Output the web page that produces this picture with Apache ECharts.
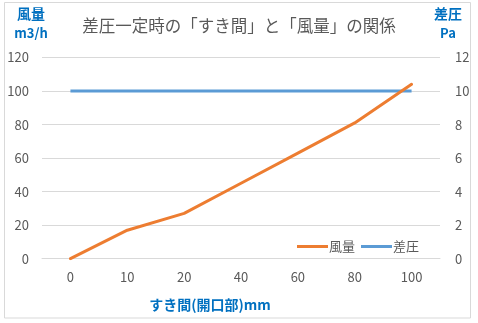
<!DOCTYPE html>
<html>
<head>
<meta charset="utf-8">
<script src="https://cdn.jsdelivr.net/npm/echarts@6/dist/echarts.min.js"></script>
<style>
  html, body { margin: 0; padding: 0; background: #ffffff; }
  #chart { width: 478px; height: 323px; }
</style>
</head>
<body>
<div id="chart"></div>
<script>
// すき間(開口部) [mm]
const gapCategories = ['0', '10', '20', '40', '60', '80', '100'];
// 風量 [m3/h]
const airflow = [0, 17, 27, 45, 63, 81, 104];
// 差圧 [Pa]
const pressure = [10, 10, 10, 10, 10, 10, 10];
// 軸目盛
const leftTicks = [0, 20, 40, 60, 80, 100, 120];
const rightTicks = [0, 2, 4, 6, 8, 10, 12];

const font = '"Noto Sans CJK JP", "Noto Sans", sans-serif';
const gray = '#595959';
const blue = '#0070C0';

const chart = echarts.init(document.getElementById('chart'), null, { renderer: 'canvas' });

chart.setOption({
  backgroundColor: '#ffffff',
  animation: false,
  textStyle: { fontFamily: font },
  title: {
    text: '差圧一定時の「すき間」と「風量」の関係',
    left: 'center',
    top: 12,
    textStyle: { fontFamily: font, fontSize: 16.5, fontWeight: 'normal', color: gray }
  },
  graphic: [
    {
      type: 'rect',
      shape: { x: 4.5, y: 2.5, width: 466, height: 315.5 },
      style: { fill: 'none', stroke: '#d9d9d9', lineWidth: 1 },
      silent: true
    },
    { type: 'text', x: 31, y: 14, style: { text: '風量', font: 'bold 14px ' + font, fill: blue, textAlign: 'center', textVerticalAlign: 'middle' } },
    { type: 'text', x: 31, y: 33, style: { text: 'm3/h', font: 'bold 13px ' + font, fill: blue, textAlign: 'center', textVerticalAlign: 'middle' } },
    { type: 'text', x: 448, y: 14, style: { text: '差圧', font: 'bold 14px ' + font, fill: blue, textAlign: 'center', textVerticalAlign: 'middle' } },
    { type: 'text', x: 448, y: 33, style: { text: 'Pa', font: 'bold 13px ' + font, fill: blue, textAlign: 'center', textVerticalAlign: 'middle' } }
  ],
  legend: {
    data: [
      { name: '風量', icon: 'rect' },
      { name: '差圧', icon: 'rect' }
    ],
    left: 292,
    top: 235,
    itemWidth: 31,
    itemHeight: 3,
    itemGap: 6,
    textStyle: { fontFamily: font, fontSize: 13, color: gray, padding: [0, 0, 0, -4] }
  },
  grid: { left: 42, right: 38, top: 57.5, bottom: 64.3, containLabel: false },
  xAxis: {
    type: 'category',
    data: gapCategories,
    boundaryGap: true,
    axisLine: { show: true, lineStyle: { color: '#d9d9d9' } },
    axisTick: { show: false },
    axisLabel: { color: gray, fontSize: 13, fontFamily: font, margin: 12 },
    name: 'すき間(開口部)mm',
    nameLocation: 'middle',
    nameGap: 39,
    nameTextStyle: { color: blue, fontSize: 14, fontWeight: 'bold', fontFamily: font, padding: [0, 62, 0, 0] }
  },
  yAxis: [
    {
      type: 'value',
      min: leftTicks[0],
      max: leftTicks[leftTicks.length - 1],
      interval: leftTicks[1] - leftTicks[0],
      axisLine: { show: false },
      axisTick: { show: false },
      splitLine: { lineStyle: { color: '#d9d9d9', width: 1 } },
      axisLabel: { color: gray, fontSize: 13, fontFamily: font, margin: 13 }
    },
    {
      type: 'value',
      min: rightTicks[0],
      max: rightTicks[rightTicks.length - 1],
      interval: rightTicks[1] - rightTicks[0],
      axisLine: { show: false },
      axisTick: { show: false },
      splitLine: { show: false },
      axisLabel: { color: gray, fontSize: 13, fontFamily: font, margin: 15 }
    }
  ],
  series: [
    {
      name: '風量',
      type: 'line',
      yAxisIndex: 0,
      data: airflow,
      symbol: 'none',
      itemStyle: { color: '#ED7D31' },
      lineStyle: { color: '#ED7D31', width: 3, cap: 'round' },
      z: 3
    },
    {
      name: '差圧',
      type: 'line',
      yAxisIndex: 1,
      data: pressure,
      symbol: 'none',
      itemStyle: { color: '#5B9BD5' },
      lineStyle: { color: '#5B9BD5', width: 3 },
      z: 2
    }
  ]
});
</script>
</body>
</html>
